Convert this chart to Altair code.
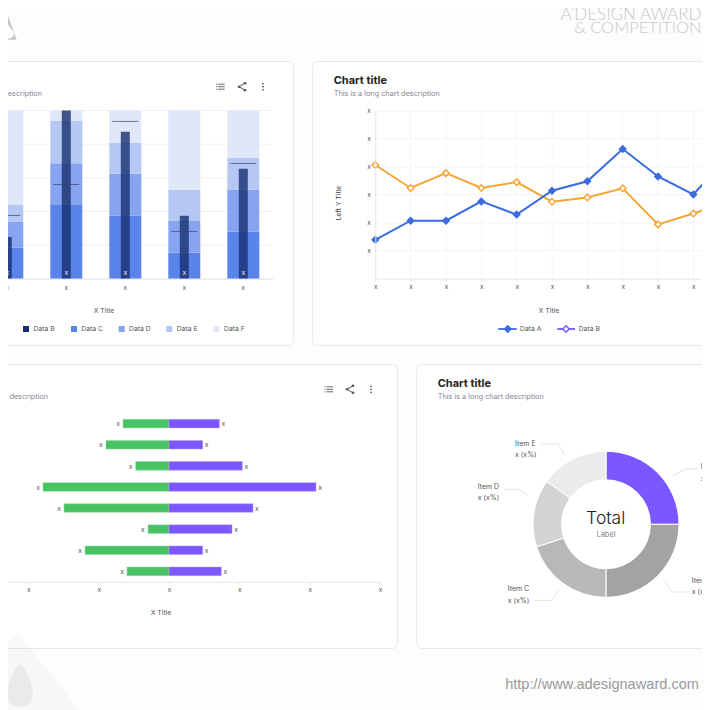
import altair as alt
import pandas as pd

# ---- data ----
stack_cats = ["c1", "c2", "c3", "c4", "c5"]
data_a = [37.6, 56.0, 93.5, 28.1, 68.5]
data_b = [24.8, 100, 87.3, 37.4, 65.3]
data_c = [18.6, 43.8, 37.4, 15.4, 27.9]
data_d = [15.4, 24.9, 25.0, 18.9, 25.0]
data_e = [10.1, 25.0, 18.6, 18.6, 18.8]
data_f = [55.9, 6.3, 19.0, 47.1, 28.3]

line_idx = list(range(11))
line_a = [1.39, 2.07, 2.07, 2.76, 2.29, 3.14, 3.48, 4.63, 3.65, 3.01, 4.38]
line_b = [4.06, 3.24, 3.77, 3.24, 3.45, 2.75, 2.90, 3.23, 1.94, 2.33, 2.75]
line_y_ticks = [1, 2, 3, 4, 5, 6]

rows = ["r1", "r2", "r3", "r4", "r5", "r6", "r7", "r8"]
left_vals = [-0.654, -0.896, -0.474, -1.791, -1.493, -0.299, -1.194, -0.597]
right_vals = [0.716, 0.479, 1.043, 2.09, 1.194, 0.896, 0.479, 0.744]
div_ticks = [-3, -2, -1, 0, 1, 2, 3]

pie_items = ["Item A", "Item B", "Item C", "Item D", "Item E"]
pie_vals = [25, 25, 20, 15, 15]
pie_cols = ["#7B57FF", "#A3A3A3", "#B8B8B8", "#D4D4D4", "#EBEBEB"]

# ---- layout helpers (image coords minus page margin) ----
W, H = 694, 702
O = 8
FONT = "Inter"
one = alt.Data(values=[{"k": 0}])
layers = []


def T(s, x, y, size=7, color="#555", align="left", weight=400, font=FONT, angle=None):
    kw = dict(align=align, baseline="middle", fontSize=size, color=color, fontWeight=weight, font=font)
    if angle is not None:
        kw["angle"] = angle
    layers.append(alt.Chart(one).mark_text(**kw).encode(x=alt.value(x - O), y=alt.value(y - O), text=alt.value(s)))


def seg(x1, y1, x2, y2, color="#555", w=1.0):
    layers.append(alt.Chart(one).mark_rule(color=color, strokeWidth=w).encode(
        x=alt.value(x1 - O), y=alt.value(y1 - O), x2=alt.value(x2 - O), y2=alt.value(y2 - O)))


def card(x1, y1, x2, y2):
    layers.append(alt.Chart(one).mark_rect(fill="#ffffff", stroke="#e8e8ec", strokeWidth=1, cornerRadius=5).encode(
        x=alt.value(x1 - O), y=alt.value(y1 - O), x2=alt.value(x2 - O), y2=alt.value(y2 - O)))


def dot(x, y, size=5, color="#555"):
    layers.append(alt.Chart(one).mark_point(filled=True, shape="circle", size=size, color=color, opacity=1).encode(
        x=alt.value(x - O), y=alt.value(y - O)))


def shape(path, x, y, size, color, opacity=1.0):
    layers.append(alt.Chart(one).mark_point(filled=True, shape=path, size=size, color=color, opacity=opacity, strokeWidth=0).encode(
        x=alt.value(x - O), y=alt.value(y - O)))


def icons(lx, sx, dx, cy):
    for dy in (-2.5, 0, 2.5):
        seg(lx - 2.5, cy + dy, lx + 4, cy + dy, "#666", 1)
        dot(lx - 4, cy + dy, 1.5, "#666")
    seg(sx + 3, cy - 3.5, sx - 3, cy, "#555", 1)
    seg(sx - 3, cy, sx + 3, cy + 3.5, "#555", 1)
    for p in ((sx + 3, cy - 3.5), (sx - 3, cy), (sx + 3, cy + 3.5)):
        dot(p[0], p[1], 7)
    for dy in (-3, 0, 3):
        dot(dx, cy + dy, 3)


TRI = "M0,-1 L1.6,1 L-1.6,1 Z"
TRI_SMALL = "M0,-1 L0.71,0.96 L-0.71,0.96 Z"
DROP = "M0,-1 C0.3,-0.6 0.9,0.1 0.9,0.4 C0.9,0.8 0.5,1 0,1 C-0.5,1 -0.9,0.8 -0.9,0.4 C-0.9,0.1 -0.3,-0.6 0,-1 Z"
DROP2 = "M0,-1 C0.25,-1 0.62,0 0.62,0.45 C0.62,0.8 0.35,1 0,1 C-0.35,1 -0.62,0.8 -0.62,0.45 C-0.62,0 -0.25,-1 0,-1 Z"

AX = dict(title=None, labelExpr="'x'", zindex=1, labelColor="#555", labelFontSize=6.5, labelFont=FONT,
          domainColor="#e6e6ea", labelOverlap=False, labelBound=False, labelFlush=False)

# ---- branding ----
shape(TRI_SMALL, 6.7, 26.3, 784, "#c4c4c4")
shape(DROP, 6.7, 30.7, 256, "#ffffff")
T("A\u2019DESIGN AWARD", 701.5, 14.5, 17, "#c6c6c6", "right", 300, "Lato")
T("& COMPETITION", 701.5, 28, 16.5, "#c6c6c6", "right", 300, "Lato")
T("http://www.adesignaward.com", 699, 684.5, 14.6, "#9a9a9a", "right", 400, "Liberation Sans")

# ---- cards ----
card(-40, 61.5, 293.5, 345.5)
card(312.7, 61.5, 760, 345.5)
card(-40, 364.5, 397.5, 648.5)
card(416.7, 364.5, 760, 648.5)

# ---- card 1: stacked bars ----
T("Chart title", -64, 81, 11, "#222", weight=700)
T("This is a long chart description", -64, 94, 7.3, "#85858f")
icons(220.7, 242, 263, 86.7)

y1_dom, y1_rng = [0, 100], [278.7 - O, 110.5 - O]
x1_scale = alt.Scale(type="band", domain=stack_cats, range=[7.3 - 29.5 - O, 272.8 - O], padding=0)
y1_scale = alt.Scale(domain=y1_dom, range=y1_rng)

grid1 = pd.DataFrame({"v": [0, 20, 40, 60, 80, 100]})
layers.append(alt.Chart(grid1).mark_rule(color="#f0f0f2", strokeWidth=1).encode(
    y=alt.Y("v:Q", scale=y1_scale, axis=None), x=alt.value(0), x2=alt.value(272.8 - O)))

stack_rows = []
for name, vals in zip(["Data C", "Data D", "Data E", "Data F"], [data_c, data_d, data_e, data_f]):
    for c, v in zip(stack_cats, vals):
        stack_rows.append({"cat": c, "s": name, "v": v, "k": name})
layers.append(alt.Chart(pd.DataFrame(stack_rows)).mark_bar(size=32).encode(
    x=alt.X("cat:N", scale=x1_scale, sort=stack_cats, axis=alt.Axis(
        labelAngle=0, offset=-(H - (278.7 - O)), tickSize=0, labelPadding=6, **AX)),
    y=alt.Y("v:Q", stack="zero", scale=y1_scale, axis=None),
    color=alt.Color("s:N", legend=None, scale=alt.Scale(
        domain=["Data C", "Data D", "Data E", "Data F"], range=["#5B84EA", "#86A4F0", "#B5C8F3", "#DFE7F9"])),
    order=alt.Order("k:N", sort="ascending"),
))
bdf = pd.DataFrame({"cat": stack_cats, "b": data_b, "a": data_a, "lab": "x"})
layers.append(alt.Chart(bdf).mark_bar(size=9, color="#17306F", opacity=0.8).encode(
    x=alt.X("cat:N", scale=x1_scale, sort=stack_cats, axis=None),
    y=alt.Y("b:Q", scale=y1_scale, axis=None)))
layers.append(alt.Chart(bdf).mark_tick(size=26, thickness=1, color="#3d4660", orient="horizontal").encode(
    x=alt.X("cat:N", scale=x1_scale, sort=stack_cats, axis=None),
    y=alt.Y("a:Q", scale=y1_scale, axis=None)))
layers.append(alt.Chart(bdf).mark_text(fontSize=7, color="#ffffff", font=FONT, opacity=0.9).encode(
    x=alt.X("cat:N", scale=x1_scale, sort=stack_cats, axis=None),
    y=alt.value(273 - O), text="lab:N"))
T("X Title", 104, 310.5, 6.8, "#555", "center")
for sx, tx, col, nm in [(26, 33.5, "#17306F", "Data B"), (74, 81.3, "#5B84EA", "Data C"),
                        (121.7, 129, "#86A4F0", "Data D"), (169.3, 176.7, "#B5C8F3", "Data E"),
                        (216.3, 224, "#DFE7F9", "Data F")]:
    layers.append(alt.Chart(one).mark_point(filled=True, shape="square", size=36, color=col, opacity=1).encode(
        x=alt.value(sx - O), y=alt.value(329 - O)))
    T(nm, tx, 329, 6.8)

# ---- card 2: lines ----
T("Chart title", 333.7, 81, 11, "#222", weight=700)
T("This is a long chart description", 333.7, 94, 7.3, "#85858f")

x2_scale = alt.Scale(domain=[0, 10], range=[375.3 - O, 728.7 - O])
y2_scale = alt.Scale(domain=[0, 6], range=[278.7 - O, 110.7 - O])
layers.append(alt.Chart(pd.DataFrame({"v": line_y_ticks})).mark_rule(color="#f2f2f4", strokeWidth=1).encode(
    y=alt.Y("v:Q", scale=y2_scale, axis=None), x=alt.value(375.3 - O), x2=alt.value(W + 20)))
layers.append(alt.Chart(pd.DataFrame({"i": line_idx})).mark_rule(color="#f6f6f8", strokeWidth=1).encode(
    x=alt.X("i:Q", scale=x2_scale, axis=None), y=alt.value(110.7 - O), y2=alt.value(278.7 - O)))
ldf = pd.DataFrame({"i": line_idx, "a": line_a, "b": line_b})
layers.append(alt.Chart(ldf).mark_line(color="#F5A638", strokeWidth=2).encode(
    x=alt.X("i:Q", scale=x2_scale, axis=alt.Axis(
        values=line_idx, orient="bottom", offset=-(H - (278.7 - O)), tickColor="#e6e6ea", tickSize=2, labelPadding=3, **AX)),
    y=alt.Y("b:Q", scale=y2_scale, axis=alt.Axis(
        values=line_y_ticks, orient="left", offset=-(375.3 - O), tickSize=0, labelPadding=5, **AX))))
layers.append(alt.Chart(ldf).mark_point(shape="diamond", filled=True, fill="#ffffff", stroke="#F5A638", strokeWidth=1.5, size=42, opacity=1).encode(
    x=alt.X("i:Q", scale=x2_scale, axis=None), y=alt.Y("b:Q", scale=y2_scale, axis=None)))
layers.append(alt.Chart(ldf).mark_line(color="#3A6CE0", strokeWidth=2).encode(
    x=alt.X("i:Q", scale=x2_scale, axis=None), y=alt.Y("a:Q", scale=y2_scale, axis=None)))
layers.append(alt.Chart(ldf).mark_point(shape="diamond", filled=True, color="#3A6CE0", size=72, opacity=1).encode(
    x=alt.X("i:Q", scale=x2_scale, axis=None), y=alt.Y("a:Q", scale=y2_scale, axis=None)))
T("Left Y Title", 339, 203, 6.8, "#444", "center", angle=270)
T("X Title", 549, 310.5, 6.8, "#555", "center")
seg(498.3, 329, 516.7, 329, "#3A6CE0", 1.8)
layers.append(alt.Chart(one).mark_point(shape="diamond", filled=True, color="#3A6CE0", size=72, opacity=1).encode(
    x=alt.value(507.7 - O), y=alt.value(329 - O)))
T("Data A", 520, 329, 6.8)
seg(557.3, 329, 575, 329, "#7B57FF", 1.8)
layers.append(alt.Chart(one).mark_point(shape="diamond", filled=True, fill="#ffffff", stroke="#7B57FF", strokeWidth=1.5, size=42, opacity=1).encode(
    x=alt.value(566 - O), y=alt.value(329 - O)))
T("Data B", 578.7, 329, 6.8)

# ---- card 3: diverging bars ----
T("Chart title", -58, 384, 11, "#222", weight=700)
T("This is a long chart description", -58, 397, 7.3, "#85858f")
icons(329, 350, 371, 389.3)

x3_scale = alt.Scale(domain=[-3, 3], range=[-42 - O, 380 - O])
y3_scale = alt.Scale(type="band", domain=rows, range=[413.1 - O, 581.9 - O], padding=0)
ddf = pd.DataFrame({"r": rows, "l": left_vals, "p": right_vals, "lab": "x"})
layers.append(alt.Chart(ddf).mark_bar(size=8.6, color="#48C262", stroke="#8fdca0", strokeWidth=0.5).encode(
    x=alt.X("l:Q", scale=x3_scale, axis=alt.Axis(
        values=div_ticks, orient="bottom", offset=-(H - (581.8 - O)), tickColor="#e0e0e4", tickSize=2, labelPadding=3, **AX)),
    y=alt.Y("r:N", scale=y3_scale, sort=rows, axis=None)))
layers.append(alt.Chart(ddf).mark_bar(size=8.6, color="#7B57FF", stroke="#b09cff", strokeWidth=0.5).encode(
    x=alt.X("p:Q", scale=x3_scale, axis=None),
    y=alt.Y("r:N", scale=y3_scale, sort=rows, axis=None)))
layers.append(alt.Chart(ddf).mark_text(fontSize=6.8, color="#555", font=FONT, dx=-5, dy=0.7).encode(
    x=alt.X("l:Q", scale=x3_scale, axis=None),
    y=alt.Y("r:N", scale=y3_scale, sort=rows, axis=None), text="lab:N"))
layers.append(alt.Chart(ddf).mark_text(fontSize=6.8, color="#555", font=FONT, dx=4, dy=0.7).encode(
    x=alt.X("p:Q", scale=x3_scale, axis=None),
    y=alt.Y("r:N", scale=y3_scale, sort=rows, axis=None), text="lab:N"))
T("X Title", 161, 613, 6.8, "#555", "center")

# ---- card 4: donut ----
T("Chart title", 437.7, 384, 11, "#222", weight=700)
T("This is a long chart description", 437.7, 397, 7.3, "#85858f")
pdf = pd.DataFrame({"item": pie_items, "v": pie_vals, "o": list(range(5))})
layers.append(alt.Chart(pdf).mark_arc(radius=73, radius2=44.5, stroke="#ffffff", strokeWidth=1).encode(
    theta=alt.Theta("v:Q", stack=True),
    order=alt.Order("o:Q"),
    color=alt.Color("item:N", legend=None, scale=alt.Scale(domain=pie_items, range=pie_cols)),
    x=alt.value(606 - O), y=alt.value(524.3 - O)))
T("Total", 605.7, 518.5, 17.5, "#222", "center", 300)
T("Label", 606, 535.3, 7.5, "#85858f", "center")

for name, lx, ly, pts in [
    ("Item E", 515, 444, [(410, 267), (460, 267), (478, 300)]),
    ("Item D", 477.7, 486.7, [(298, 403), (340, 403), (368, 420)]),
    ("Item C", 507.7, 589.3, [(388, 736), (440, 736), (460, 705)]),
    ("Item B", 691.7, 581, [(855, 711), (800, 711), (778, 675)]),
    ("Item A", 700.7, 467.3, [(880, 342), (840, 342), (805, 362)]),
]:
    T(name, lx, ly, 7)
    T("x  (x%)", lx, ly + 11.2, 7)
    for a, b in zip(pts[:-1], pts[1:]):
        seg(405 + a[0] / 3, 355 + a[1] / 3, 405 + b[0] / 3, 355 + b[1] / 3, "#dcdcdc", 0.8)

# ---- faint watermark ----
shape(TRI, 17, 671, 6084, "#000000", 0.025)
shape(DROP2, 20, 685.5, 1764, "#000000", 0.05)

chart = alt.layer(*layers).properties(
    width=W, height=H, padding=0, background="#fdfdfd",
    autosize=alt.AutoSizeParams(type="none"),
).resolve_scale(
    x="independent", y="independent", color="independent", theta="independent",
).resolve_axis(x="independent", y="independent").configure_view(stroke=None)

chart.save("out.html", embed_options={"renderer": "svg", "actions": False})
